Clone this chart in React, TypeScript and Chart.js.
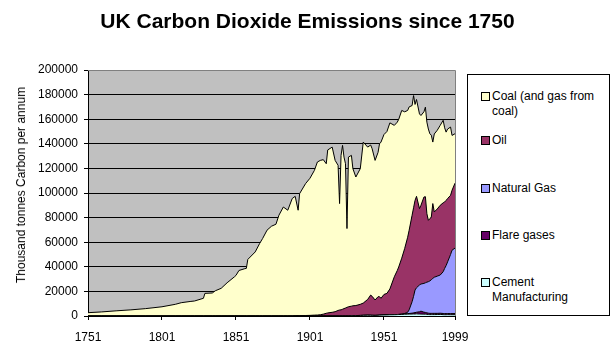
import React, { useEffect, useRef } from "react";
import { Chart, registerables } from "chart.js";

Chart.register(...registerables);

const FONT = "Arial, 'Liberation Sans', Helvetica, sans-serif";

const titleText = "UK Carbon Dioxide Emissions since 1750";
const yAxisTitle = "Thousand tonnes Carbon per annum";
const xTickYears = [1751, 1801, 1851, 1901, 1951, 1999];

const years = [
  1751, 1760, 1770, 1780, 1790, 1801, 1810, 1814, 1820, 1823, 1829, 1830, 1835, 1837, 1841, 1845,
  1850, 1851, 1853, 1857, 1858, 1859, 1864, 1867, 1869, 1872, 1875, 1878, 1880, 1883, 1886, 1889,
  1891, 1893, 1894, 1898, 1901, 1904, 1906, 1908, 1910, 1912, 1913, 1916, 1918, 1920, 1921, 1922,
  1923, 1924, 1925, 1926, 1927,
  1929, 1930, 1932, 1935, 1937, 1940, 1942, 1943, 1945, 1947, 1948, 1949, 1951, 1953, 1955, 1958,
  1960, 1961, 1963, 1965, 1967, 1968, 1970, 1971, 1972, 1973, 1975, 1976, 1978, 1979, 1980, 1981,
  1982, 1983, 1984, 1985, 1987, 1989, 1991, 1992, 1993, 1994, 1996, 1997, 1999,
];

const coal = [
  2700, 3300, 4200, 5000, 6000, 7500, 9500, 10800, 11800, 12200, 14400, 18400, 18700, 20500, 22500, 27000,
  31900, 33000, 37000, 38500, 38700, 46000, 52100, 59000, 63000, 69800, 73000, 74600, 81900, 88600, 86000, 95500,
  97100, 85700, 99200, 107200, 111500, 117700, 124400, 125500, 125600, 121600, 132500, 134300, 123000, 118000, 86500, 125600,
  133200, 123200, 117300, 64100, 121700,
  122600, 111500, 104500, 110300, 130900, 123800, 122000, 120000, 113500, 117300, 124300, 127000, 130000, 131600, 135000, 123100,
  120600, 120000, 120100, 111100, 103100, 100300, 89200, 91200, 78000, 78700, 77000, 73000, 69300, 72800, 74400, 74200,
  69200, 66500, 50000, 63400, 64000, 65000, 67100, 60300, 55500, 56500, 55500, 44600, 40200,
];

const oil = [
  0, 0, 0, 0, 0, 0, 0, 0, 0, 0, 0, 0, 0, 0, 0, 0,
  0, 0, 0, 0, 0, 0, 0, 0, 0, 0, 0, 0, 0, 0, 0, 0,
  200, 300, 300, 400, 500, 700, 800, 1000, 1500, 2200, 2500, 3000, 3500, 4500, 4900, 5000,
  5500, 6000, 6500, 7000, 7500,
  7700, 7950, 8150, 9050, 9950, 12850, 16400, 15450, 12500, 15100, 15000, 13650, 16650, 17500, 21000, 30850,
  35850, 38700, 45450, 52850, 61000, 64700, 70300, 72000, 72900, 74300, 62100, 64000, 70200, 70000, 55700, 49900,
  50500, 51000, 60800, 53100, 54600, 56700, 56000, 54000, 53000, 51500, 48100, 48700, 52800,
];

const naturalGas = [
  0, 0, 0, 0, 0, 0, 0, 0, 0, 0, 0, 0, 0, 0, 0, 0,
  0, 0, 0, 0, 0, 0, 0, 0, 0, 0, 0, 0, 0, 0, 0, 0,
  0, 0, 0, 0, 0, 0, 0, 0, 0, 0, 0, 0, 0, 0, 0, 0,
  0, 0, 0, 0, 0,
  0, 0, 0, 0, 0, 0, 0, 0, 0, 0, 0, 0, 0, 0, 0, 0,
  0, 0, 100, 300, 1100, 2950, 9300, 13450, 18350, 19950, 21800, 22050, 23400, 24100, 24950, 25600,
  26350, 27350, 28450, 29350, 30250, 31050, 33950, 36750, 39050, 42000, 48050, 51550, 53250,
];

const flareGases = [
  0, 0, 0, 0, 0, 0, 0, 0, 0, 0, 0, 0, 0, 0, 0, 0,
  0, 0, 0, 0, 0, 0, 0, 0, 0, 0, 0, 0, 0, 0, 0, 0,
  0, 0, 0, 0, 0, 0, 0, 0, 0, 0, 0, 0, 0, 0, 0, 0,
  0, 0, 0, 0, 0,
  0, 0, 0, 0, 0, 0, 0, 0, 0, 0, 0, 0, 0, 0, 0, 0,
  0, 100, 200, 300, 400, 500, 700, 900, 1100, 1300, 1800, 2400, 1600, 1400, 1200, 1100,
  1000, 1000, 1000, 1000, 950, 950, 950, 900, 900, 900, 900, 900, 900,
];

const cement = [
  0, 0, 0, 0, 0, 0, 0, 0, 0, 0, 0, 0, 0, 0, 0, 0,
  0, 0, 0, 0, 0, 0, 0, 0, 0, 0, 0, 0, 0, 0, 0, 0,
  0, 0, 0, 0, 0, 0, 0, 0, 0, 0, 0, 0, 0, 0, 0, 0,
  0, 0, 0, 0, 0,
  300, 350, 350, 450, 550, 650, 600, 550, 500, 600, 700, 750, 850, 900, 1000, 1050,
  1150, 1200, 1250, 1450, 1500, 1550, 1600, 1650, 1650, 1750, 1600, 1550, 1500, 1500, 1350, 1200,
  1150, 1150, 1150, 1150, 1200, 1300, 1100, 1050, 1050, 1100, 1050, 1050, 1050,
];

// bottom-to-top stacking order
const series = [
  { name: "Cement Manufacturing", values: cement, color: "#CCFFFF" },
  { name: "Flare gases", values: flareGases, color: "#660066" },
  { name: "Natural Gas", values: naturalGas, color: "#9999FF" },
  { name: "Oil", values: oil, color: "#993366" },
  { name: "Coal (and gas from coal)", values: coal, color: "#FFFFCC" },
];

const legendItems = [
  { lines: ["Coal (and gas from", "coal)"], color: "#FFFFCC", top: 89 },
  { lines: ["Oil"], color: "#993366", top: 133 },
  { lines: ["Natural Gas"], color: "#9999FF", top: 181 },
  { lines: ["Flare gases"], color: "#660066", top: 228 },
  { lines: ["Cement", "Manufacturing"], color: "#CCFFFF", top: 275 },
];

const plotBg = {
  id: "plotBg",
  beforeDraw(chart: any) {
    const { ctx, chartArea: a } = chart;
    ctx.save();
    ctx.fillStyle = "#C0C0C0";
    ctx.fillRect(a.left, a.top, a.right - a.left, a.bottom - a.top);
    ctx.restore();
  },
  afterDraw(chart: any) {
    const { ctx, chartArea: a } = chart;
    ctx.save();
    ctx.strokeStyle = "#808080";
    ctx.lineWidth = 1;
    ctx.beginPath();
    ctx.moveTo(a.left, a.top + 0.5);
    ctx.lineTo(a.right + 0.5, a.top + 0.5);
    ctx.lineTo(a.right + 0.5, a.bottom);
    ctx.stroke();
    ctx.restore();
  },
};

export default function App() {
  const ref = useRef<HTMLCanvasElement | null>(null);

  useEffect(() => {
    if (!ref.current) return;
    const font = { family: FONT, size: 12 };
    const chart = new Chart(ref.current, {
      type: "line",
      data: {
        datasets: series.map((s, i) => ({
          label: s.name,
          data: years.map((x, j) => ({ x, y: s.values[j] })),
          backgroundColor: s.color,
          borderColor: "#000000",
          borderWidth: 1,
          pointRadius: 0,
          tension: 0,
          fill: i === 0 ? "origin" : "-1",
        })),
      },
      options: {
        responsive: false,
        animation: false,
        events: [],
        layout: { padding: { left: 0, top: 70, right: 160, bottom: 0 } },
        plugins: { legend: { display: false }, tooltip: { enabled: false }, title: { display: false } },
        scales: {
          x: {
            type: "linear",
            min: 1751,
            max: 1999,
            afterBuildTicks: (s: any) => {
              s.ticks = xTickYears.map((v) => ({ value: v }));
            },
            afterFit: (s: any) => {
              s.height = 39;
            },
            grid: { drawOnChartArea: false, color: "#000000", tickLength: 4 },
            border: { color: "#000000" },
            ticks: {
              font,
              color: "#000000",
              padding: 10,
              autoSkip: false,
              maxRotation: 0,
              callback: (v: any) => String(v),
            },
          },
          y: {
            type: "linear",
            stacked: true,
            min: 0,
            max: 200000,
            afterFit: (s: any) => {
              s.width = 88;
            },
            grid: { color: "#000000", tickLength: 4 },
            border: { color: "#000000" },
            ticks: { font, color: "#000000", stepSize: 20000, padding: 6, callback: (v: any) => String(v) },
          },
        },
      },
      plugins: [plotBg],
    });
    return () => chart.destroy();
  }, []);

  return (
    <div style={{ position: "fixed", left: 0, top: 0, width: 615, height: 355, background: "#ffffff", overflow: "hidden" }}>
      <canvas ref={ref} width={615} height={355} style={{ position: "absolute", left: 0, top: 0, width: 615, height: 355 }} />
      <div
        style={{
          position: "absolute",
          left: 0,
          width: 615,
          top: 9,
          textAlign: "center",
          fontFamily: FONT,
          fontWeight: "bold",
          fontSize: 21,
          lineHeight: "24px",
          color: "#000",
        }}
      >
        {titleText}
      </div>
      <div
        style={{
          position: "absolute",
          left: 21,
          top: 185,
          transform: "translate(-50%, -50%) rotate(-90deg)",
          fontFamily: FONT,
          fontSize: 12,
          lineHeight: "14px",
          color: "#000",
          whiteSpace: "nowrap",
        }}
      >
        {yAxisTitle}
      </div>
      <div
        style={{
          position: "absolute",
          left: 467,
          top: 74,
          width: 141,
          height: 240,
          border: "1px solid #000",
          background: "#fff",
        }}
      />
      {legendItems.map((it) => (
        <div
          key={it.lines[0]}
          style={{
            position: "absolute",
            left: 481,
            top: it.top,
            display: "flex",
            alignItems: "flex-start",
            fontFamily: FONT,
            fontSize: 12,
            lineHeight: "15px",
            color: "#000",
            whiteSpace: "nowrap",
          }}
        >
          <div
            style={{
              width: 7,
              height: 7,
              border: "1px solid #000",
              background: it.color,
              marginTop: 3,
              marginRight: 2,
              flex: "0 0 auto",
            }}
          />
          <div>
            {it.lines.map((l) => (
              <div key={l}>{l}</div>
            ))}
          </div>
        </div>
      ))}
    </div>
  );
}
